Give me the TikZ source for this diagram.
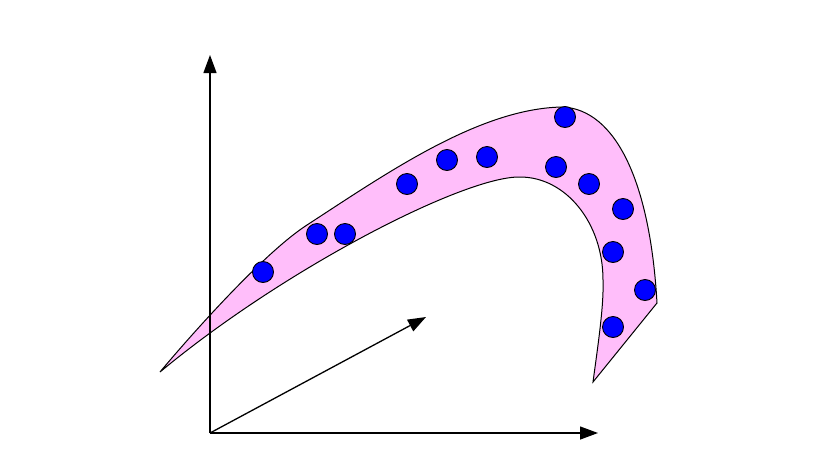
\documentclass[tikz,border=0pt]{standalone}
\usetikzlibrary{arrows.meta}
\definecolor{bandpink}{RGB}{255,190,250}
\tikzset{
  axis/.style={line width=1.3pt,-{Triangle[length=18pt,width=13pt]}},
  dot/.style={circle,draw=black,line width=0.9pt,fill=blue,minimum size=21pt,inner sep=0pt},
  band/.style={draw=black,line width=1pt,fill=bandpink}
}
\begin{document}
\begin{tikzpicture}[x=1pt,y=-1pt]
\useasboundingbox (0,0) rectangle (822,469);
% band
\draw[band] (160,372) .. controls (185,342) and (262,254) .. (307,225)
  .. controls (387,173) and (480,108) .. (563,107)
  .. controls (615,110) and (650,180) .. (657,303)
  -- (593,382)
  .. controls (598,345) and (604,305) .. (603,280)
  .. controls (603,223) and (566,177) .. (520,177)
  .. controls (465,176) and (285,268) .. (160,372) -- cycle;
% axes
\coordinate (O) at (210,433);
\coordinate (Y) at (210,55);
\coordinate (X) at (598,433);
\coordinate (Z) at (426,317);
\draw[axis] (O) -- (Y);
\draw[axis] (O) -- (X);
\draw[axis] (O) -- (Z);
% dots
\node[dot] (d1) at (263,272) {};
\node[dot] (d2) at (317,234) {};
\node[dot] (d3) at (345,234) {};
\node[dot] (d4) at (407,184) {};
\node[dot] (d5) at (447,160) {};
\node[dot] (d6) at (487,157) {};
\node[dot] (d7) at (565,117) {};
\node[dot] (d8) at (556,167) {};
\node[dot] (d9) at (589,184) {};
\node[dot] (d10) at (623,209) {};
\node[dot] (d11) at (613,252) {};
\node[dot] (d12) at (645,290) {};
\node[dot] (d13) at (613,327) {};
\end{tikzpicture}
\end{document}
